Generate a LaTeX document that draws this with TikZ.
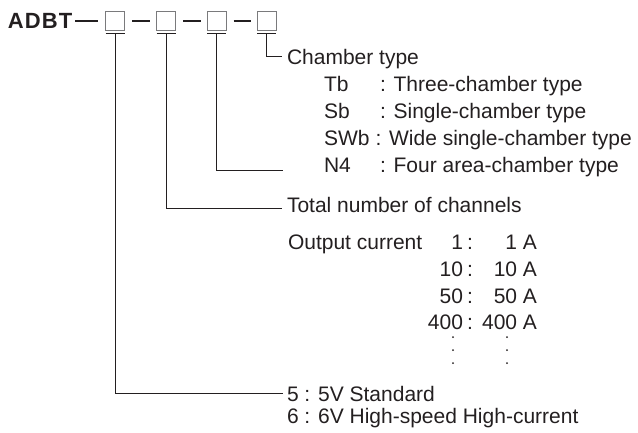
\documentclass[tikz,border=0pt]{standalone}
\usepackage{fontspec}
\setmainfont{Liberation Sans}
\usetikzlibrary{calc}
\definecolor{ink}{HTML}{231F20}
\definecolor{boxgray}{HTML}{7A7A7C}
\begin{document}
\begin{tikzpicture}[x=1pt,y=-1pt,
  every node/.style={inner sep=0pt, outer sep=0pt, text=ink, font=\fontsize{21}{25}\selectfont},
  txt/.style={anchor=base west},
  num/.style={anchor=base east},
  line/.style={draw=ink, line width=1pt},
  dashline/.style={draw=ink, line width=1.2pt},
  codebox/.style={draw=boxgray, line width=0.9pt, minimum width=19pt, minimum height=19pt},
  dotmark/.style={fill=ink, draw=none, circle, minimum size=2pt}]
\useasboundingbox (0,0) rectangle (638,432);

% title and code boxes
\node[txt, font=\fontsize{22}{25}\selectfont\bfseries\addfontfeature{LetterSpace=5}] (adbt) at (8,28) {ADBT};
\node[codebox] (b1) at (115,21) {};
\node[codebox] (b2) at (166,21) {};
\node[codebox] (b3) at (216.5,21) {};
\node[codebox] (b4) at (266.5,21) {};

\draw[dashline, shorten <=3pt, shorten >=7.5pt] (adbt.east |- b1.west) -- (b1.west);
\draw[dashline, shorten <=7.5pt, shorten >=6.5pt] (b1.east) -- (b2.west);
\draw[dashline, shorten <=7.5pt, shorten >=6.5pt] (b2.east) -- (b3.west);
\draw[dashline, shorten <=7.5pt, shorten >=6.5pt] (b3.east) -- (b4.west);

% bars under the boxes
\foreach \b in {b1,b2,b3,b4}{
  \draw[line] ($(\b.south west)+(0,3)$) -- ($(\b.south east)+(0,3)$);
  \coordinate (u\b) at ($(\b.south)+(0,3)$);
}

% chamber type
\node[txt] (ct) at (287,64) {Chamber type};
\node[txt] (tb) at (324,91) {Tb};
\node[txt] (tbd) at (380,91) {: Three-chamber type};
\node[txt] (sb) at (324,118) {Sb};
\node[txt] (sbd) at (380,118) {: Single-chamber type};
\node[txt] (swb) at (324,145) {SWb};
\node[txt] (swbd) at (375.5,145) {: Wide single-chamber type};
\node[txt] (n4) at (324,172) {N4};
\node[txt] (n4d) at (380,172) {: Four area-chamber type};

% channels
\node[txt] (tot) at (287,212) {Total number of channels};

% output current
\node[txt] (oc) at (288,249) {Output current};
\node[num] (c1) at (463,249) {1};
\node[txt] (k1) at (467,249) {:};
\node[num] (v1) at (537,249) {1 A};
\node[num] (c2) at (463,276) {10};
\node[txt] (k2) at (467,276) {:};
\node[num] (v2) at (537,276) {10 A};
\node[num] (c3) at (463,303) {50};
\node[txt] (k3) at (467,303) {:};
\node[num] (v3) at (537,303) {50 A};
\node[num] (c4) at (463,329) {400};
\node[txt] (k4) at (467,329) {:};
\node[num] (v4) at (537,329) {400 A};
\foreach \yy in {337,350,363}{
  \node[dotmark] at (453,\yy) {};
  \node[dotmark] at (507,\yy) {};
}

% voltage
\node[txt] (s5) at (287,401) {5 : 5V Standard};
\node[txt] (s6) at (287,423) {6 : 6V High-speed High-current};

% connectors
\coordinate (e4) at (282,56);
\coordinate (e3) at (283,170);
\coordinate (e2) at (282,208);
\coordinate (e1) at (283,393);
\draw[line] (ub4) |- (e4);
\draw[line] (ub3) |- (e3);
\draw[line] (ub2) |- (e2);
\draw[line] (ub1) |- (e1);
\end{tikzpicture}
\end{document}
